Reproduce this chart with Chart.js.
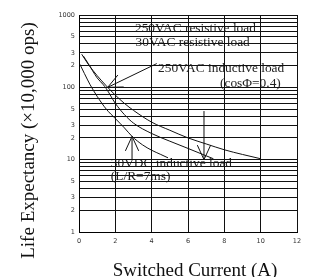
<!DOCTYPE html>
<html>
<head>
<meta charset="utf-8">
<script src="https://cdn.jsdelivr.net/npm/chart.js@4.4.0/dist/chart.umd.min.js"></script>
<style>
  html, body { margin: 0; padding: 0; background: #fff; }
  canvas { display: block; }
</style>
</head>
<body>
<canvas id="lifeChart" width="318" height="277"></canvas>
<script>
// values (x = switched current A, y = life x10,000 ops)
const resistiveX = [0.15, 0.5, 1, 1.5, 2, 2.5, 3, 4, 5, 6, 7, 8, 9, 10];
const resistiveY = [287, 210, 145, 105, 78, 60, 48, 33, 25.5, 20, 16.5, 13.7, 11.8, 10.3];

const acInductiveX = [0.24, 0.5, 1, 1.32, 1.5, 2, 2.5, 3, 4, 5, 6, 7, 7.4];
const acInductiveY = [271, 215, 135, 110, 96, 60, 42, 32, 23, 18, 14.3, 11.3, 10.3];

const dcInductiveX = [0.05, 0.3, 0.6, 1, 1.5, 2, 2.5, 2.92, 3.5, 4, 4.5, 4.9];
const dcInductiveY = [208, 155, 110, 75, 50, 37, 27.5, 21, 16, 13.5, 11.8, 10.6];

// log axis grid: every 1..9 step of each decade
const yTickValues = [1, 2, 3, 4, 5, 6, 7, 8, 9, 10, 20, 30, 40, 50, 60, 70, 80, 90,
  100, 200, 300, 400, 500, 600, 700, 800, 900, 1000];
const yLabelled = [1, 2, 3, 5];

// annotation texts: [text, x (A), y (value)] for the text's left/baseline
const notes = [
  ["250VAC resistive load", 3.08, 580],
  ["30VAC resistive load", 3.11, 370],
  ["250VAC inductive load", 4.35, 164],
  ["(cos\u03A6=0.4)", 7.76, 102],
  ["30VDC inductive load", 1.75, 8.0],
  ["(L/R=7ms)", 1.75, 5.3]
];
// arrows: tail [x, y] -> tip [x, y]
const arrows = [
  [[4.28, 213], [1.58, 100]],
  [[2.92, 10], [2.92, 21]],
  [[6.88, 47], [6.88, 10]]
];

const toPoints = (xs, ys) => xs.map((x, i) => ({ x: x, y: ys[i] }));

const curveStyle = {
  borderColor: "#111",
  borderWidth: 1,
  pointRadius: 0,
  fill: false,
  cubicInterpolationMode: "monotone"
};

const serif = "'Liberation Serif', 'Times New Roman', serif";

const annotate = {
  id: "annotate",
  beforeDraw(chart) {
    const { ctx, scales } = chart;
    ctx.save();
    ctx.fillStyle = "#222";
    ctx.font = "13.4px " + serif;
    ctx.textBaseline = "alphabetic";
    ctx.textAlign = "left";
    notes.forEach(([t, x, y]) => {
      ctx.fillText(t, scales.x.getPixelForValue(x), scales.y.getPixelForValue(y));
    });
    ctx.restore();
  },
  afterDatasetsDraw(chart) {
    const { ctx, scales } = chart;
    ctx.save();
    ctx.strokeStyle = "#111";
    ctx.lineWidth = 1;
    arrows.forEach(([tail, tip]) => {
      const x0 = scales.x.getPixelForValue(tail[0]);
      const y0 = scales.y.getPixelForValue(tail[1]);
      const x1 = scales.x.getPixelForValue(tip[0]);
      const y1 = scales.y.getPixelForValue(tip[1]);
      const ang = Math.atan2(y0 - y1, x0 - x1);
      const len = 16;
      ctx.beginPath();
      ctx.moveTo(x0, y0);
      ctx.lineTo(x1, y1);
      ctx.moveTo(x1 + len * Math.cos(ang - 0.43), y1 + len * Math.sin(ang - 0.43));
      ctx.lineTo(x1, y1);
      ctx.lineTo(x1 + len * Math.cos(ang + 0.43), y1 + len * Math.sin(ang + 0.43));
      ctx.stroke();
    });
    // axis titles
    ctx.fillStyle = "#111";
    ctx.font = "19px " + serif;
    ctx.textAlign = "center";
    ctx.textBaseline = "alphabetic";
    ctx.fillText("Switched Current (A)", 195, 275.5);
    ctx.translate(33.5, 140.5);
    ctx.rotate(-Math.PI / 2);
    ctx.fillText("Life Expectancy (\u00D710,000 ops)", 0, 0);
    ctx.restore();
  }
};

new Chart(document.getElementById("lifeChart"), {
  type: "line",
  data: {
    datasets: [
      Object.assign({ label: "resistive load", data: toPoints(resistiveX, resistiveY) }, curveStyle),
      Object.assign({ label: "250VAC inductive load", data: toPoints(acInductiveX, acInductiveY) }, curveStyle),
      Object.assign({ label: "30VDC inductive load", data: toPoints(dcInductiveX, dcInductiveY) }, curveStyle)
    ]
  },
  options: {
    responsive: false,
    animation: false,
    devicePixelRatio: 1,
    layout: { padding: { top: 15, right: 21, bottom: 0, left: 0 } },
    plugins: { legend: { display: false }, tooltip: { enabled: false } },
    scales: {
      x: {
        type: "linear",
        min: 0,
        max: 12,
        ticks: {
          stepSize: 2,
          padding: 5,
          color: "#333",
          font: { family: "'DejaVu Sans', sans-serif", size: 6.5 }
        },
        grid: { color: "#111", lineWidth: 1, drawTicks: false },
        border: { color: "#000", width: 1 },
        afterFit(s) { s.height = 45; }
      },
      y: {
        type: "logarithmic",
        min: 1,
        max: 1000,
        afterBuildTicks(s) { s.ticks = yTickValues.map((v) => ({ value: v })); },
        ticks: {
          autoSkip: false,
          padding: 4,
          color: "#333",
          font: { family: "'DejaVu Sans', sans-serif", size: 6.5 },
          callback(v) {
            const m = Math.round(v / Math.pow(10, Math.floor(Math.log10(v) + 1e-9)));
            if (m === 1) return String(v);
            return yLabelled.includes(m) ? String(m) : "";
          }
        },
        grid: { color: "#111", lineWidth: 1, drawTicks: false },
        border: { color: "#000", width: 1 },
        afterFit(s) { s.width = 79; }
      }
    }
  },
  plugins: [annotate]
});
</script>
</body>
</html>
